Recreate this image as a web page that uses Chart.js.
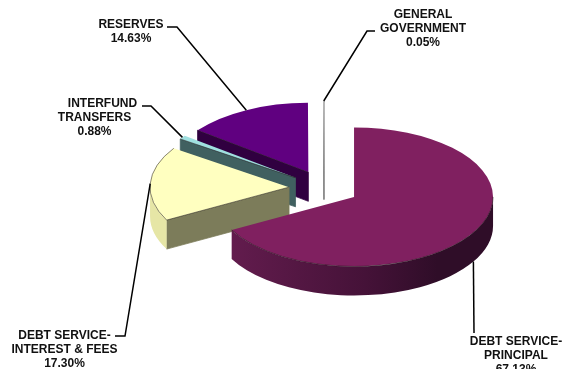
<!DOCTYPE html>
<html>
<head>
<meta charset="utf-8">
<title>Expenditures</title>
<script src="https://cdn.jsdelivr.net/npm/chart.js@4/dist/chart.umd.min.js"></script>
<style>
  html, body { margin: 0; padding: 0; background: #fff; }
  canvas { display: block; }
</style>
</head>
<body>
<canvas id="myChart" width="566" height="369"></canvas>
<script>
const categories = [
  ['DEBT SERVICE-', 'PRINCIPAL'],
  ['DEBT SERVICE-', 'INTEREST & FEES'],
  ['INTERFUND', 'TRANSFERS'],
  ['RESERVES'],
  ['GENERAL', 'GOVERNMENT']
]
const shares = [67.13, 17.30, 0.88, 14.63, 0.05]

const topColors = ['#802060', '#ffffc0', '#a0e0e0', '#600080', '#ffffff']
const radialWallColors = ['#401030', '#7c7c5a', '#406060', '#300040', '#808080']
const rimColors = ['#401030', '#e6e6a6', '#406060', '#300040', '#808080']

const squash = 0.5      // vertical flattening of the pie
const depth = 29        // wall height in screen pixels
const explode = 35      // how far each slice is pulled out

// label text anchors and leader elbows, one per slice
const labelLayout = [
  { x: 516, y: 345, elbow: [[474, 333]], onWall: true },
  { x: 64.5, y: 339, elbow: [[115, 336], [125, 336]] },
  { x: 94.5, y: 107, firstLineX: 102.5, elbow: [[142, 106], [151, 106]] },
  { x: 131, y: 28, elbow: [[167, 27], [177, 27]] },
  { x: 423, y: 18, elbow: [[375, 31], [367, 31]] }
]

function offsetOf(arc) {
  const mid = (arc.startAngle + arc.endAngle) / 2
  return { dx: Math.cos(mid) * explode, dy: Math.sin(mid) * explode, mid }
}

// parts of [a0, a1] that lie on the front half of the circle
function frontSpans(a0, a1) {
  const turn = Math.PI * 2
  const spans = []
  for (let k = -1; k <= 1; k++) {
    const from = Math.max(a0, k * turn)
    const to = Math.min(a1, k * turn + Math.PI)
    if (to > from) spans.push([from, to])
  }
  return spans
}

// radial edges turned towards the viewer
function visibleRadials(a0, a1) {
  const radial = []
  if (Math.cos(a0) < 0) radial.push(a0)
  if (Math.cos(a1) > 0) radial.push(a1)
  return radial
}

function drawWalls(ctx, arc, i) {
  const { x, y, startAngle: a0, endAngle: a1, outerRadius: r } = arc
  const h = depth / squash

  visibleRadials(a0, a1).forEach(a => {
    ctx.beginPath()
    ctx.moveTo(x, y)
    ctx.lineTo(x + r * Math.cos(a), y + r * Math.sin(a))
    ctx.lineTo(x + r * Math.cos(a), y + r * Math.sin(a) + h)
    ctx.lineTo(x, y + h)
    ctx.closePath()
    ctx.fillStyle = radialWallColors[i]
    ctx.strokeStyle = radialWallColors[i]
    ctx.lineWidth = 1
    ctx.fill()
    ctx.stroke()
  })

  frontSpans(a0, a1).forEach(([from, to]) => {
    ctx.beginPath()
    ctx.arc(x, y, r, from, to)
    ctx.arc(x, y + h, r, to, from, true)
    ctx.closePath()
    if (i === 0) {
      const g = ctx.createLinearGradient(x - r, 0, x + r, 0)
      g.addColorStop(0, '#661d50')
      g.addColorStop(0.54, '#451238')
      g.addColorStop(0.8, '#2f0d28')
      g.addColorStop(1, '#2f0d28')
      ctx.fillStyle = g
    } else {
      ctx.fillStyle = rimColors[i]
    }
    ctx.fill()
  })
}

// thin dark line where the top face meets its walls
function drawEdges(ctx, arc, i) {
  const { x, y, startAngle: a0, endAngle: a1, outerRadius: r } = arc
  ctx.strokeStyle = 'rgba(30,25,25,0.7)'
  ctx.lineWidth = 1
  ctx.beginPath()
  if (i === 1) {
    ctx.arc(x, y, r, a0, a1)
  } else {
    frontSpans(a0, a1).forEach(([from, to]) => {
      ctx.moveTo(x + r * Math.cos(from), y + r * Math.sin(from))
      ctx.arc(x, y, r, from, to)
    })
  }
  if (i < 4) {
    visibleRadials(a0, a1).forEach(a => {
      ctx.moveTo(x, y)
      ctx.lineTo(x + r * Math.cos(a), y + r * Math.sin(a))
    })
  }
  ctx.stroke()
}

const pie3d = {
  id: 'pie3d',
  beforeDatasetDraw(chart, args) {
    const ctx = chart.ctx
    const arcs = args.meta.data
    // back to front
    for (let i = arcs.length - 1; i >= 0; i--) {
      const arc = arcs[i]
      const { dx, dy } = offsetOf(arc)
      ctx.save()
      ctx.translate(0, arc.y)
      ctx.scale(1, squash)
      ctx.translate(0, -arc.y)
      ctx.translate(dx, dy)
      drawWalls(ctx, arc, i)
      arc.draw(ctx)
      drawEdges(ctx, arc, i)
      ctx.restore()
    }
    return false
  },
  afterDraw(chart) {
    const ctx = chart.ctx
    const arcs = chart.getDatasetMeta(0).data
    ctx.save()
    arcs.forEach((arc, i) => {
      const { dx, dy, mid } = offsetOf(arc)
      const layout = labelLayout[i]
      const r = arc.outerRadius

      // leader from the label to the slice edge
      const tipX = arc.x + dx + r * Math.cos(mid)
      const tipY = arc.y + (dy + r * Math.sin(mid)) * squash + (layout.onWall ? depth : 0)
      ctx.beginPath()
      layout.elbow.forEach((p, n) => n ? ctx.lineTo(p[0], p[1]) : ctx.moveTo(p[0], p[1]))
      ctx.lineTo(tipX, tipY)
      ctx.strokeStyle = '#000'
      ctx.lineWidth = 1.5
      ctx.stroke()

      // label text
      ctx.fillStyle = '#111'
      ctx.font = 'bold 12px "Liberation Sans", Arial, sans-serif'
      ctx.textAlign = 'center'
      ctx.textBaseline = 'alphabetic'
      const lines = categories[i].concat(shares[i].toFixed(2) + '%')
      lines.forEach((line, n) => {
        const lx = n === 0 && layout.firstLineX ? layout.firstLineX : layout.x
        ctx.fillText(line, lx, layout.y + n * 14)
      })
    })
    ctx.restore()
  }
}

new Chart(document.getElementById('myChart'), {
  type: 'pie',
  plugins: [pie3d],
  data: {
    labels: categories.map(c => c.join(' ')),
    datasets: [{
      data: shares,
      backgroundColor: topColors,
      borderWidth: 0,
      clip: false
    }]
  },
  options: {
    responsive: false,
    animation: false,
    radius: 139,
    layout: { padding: { left: 82, top: 7 } },
    plugins: {
      legend: { display: false },
      tooltip: { enabled: false }
    }
  }
})
</script>
</body>
</html>
